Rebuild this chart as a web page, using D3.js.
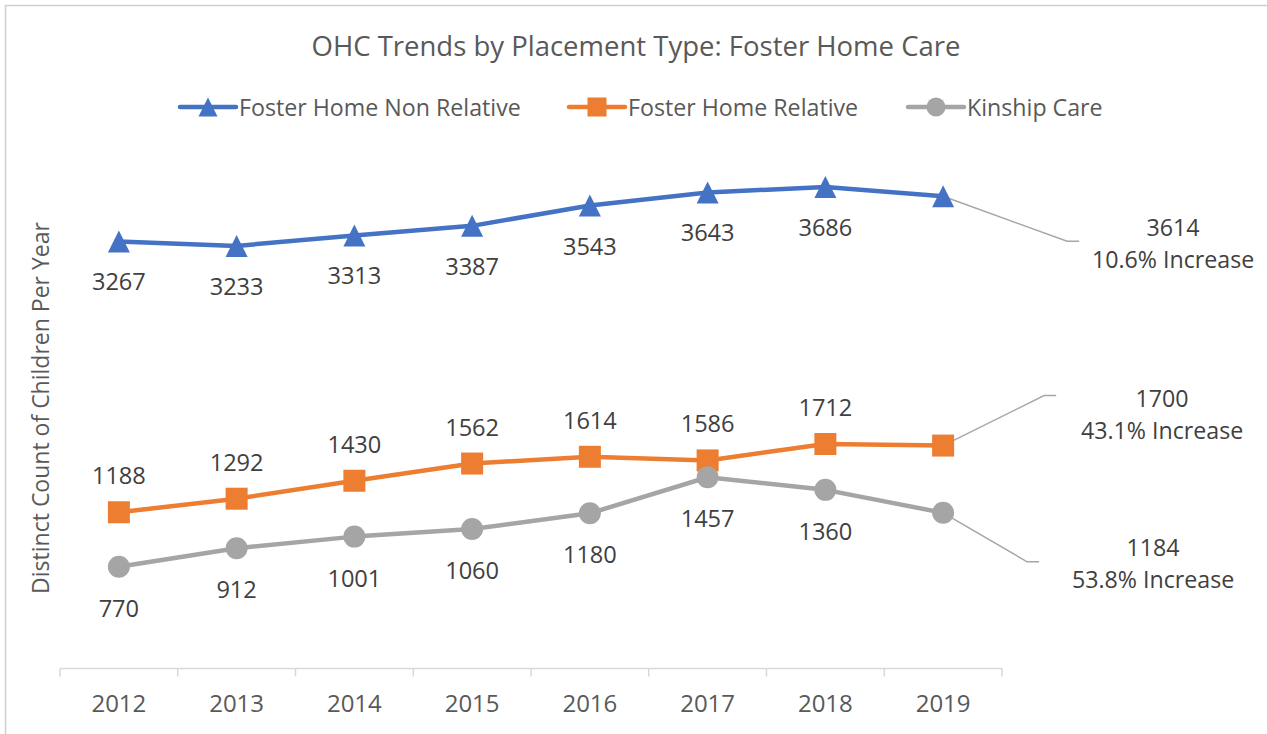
<!DOCTYPE html>
<html>
<head>
<meta charset="utf-8">
<script src="https://cdn.jsdelivr.net/npm/d3@7"></script>
<style>
  body { margin: 0; background: #fff; }
  svg { font-family: 'Open Sans', 'Noto Sans', sans-serif; }
</style>
</head>
<body>
<div id="chart"></div>
<script>
const years = ['2012', '2013', '2014', '2015', '2016', '2017', '2018', '2019']
const nonRelative = [3267, 3233, 3313, 3387, 3543, 3643, 3686, 3614]
const relative = [1188, 1292, 1430, 1562, 1614, 1586, 1712, 1700]
const kinship = [770, 912, 1001, 1060, 1180, 1457, 1360, 1184]
const seriesNames = ['Foster Home Non Relative', 'Foster Home Relative', 'Kinship Care']
const increaseLabels = ['10.6% Increase', '43.1% Increase', '53.8% Increase']
const title = 'OHC Trends by Placement Type: Foster Home Care'
const yTitle = 'Distinct Count of Children Per Year'

const width = 1267
const height = 734
const plot = { left: 60, right: 1002, top: 146, bottom: 667 }

const svg = d3.select('#chart').append('svg').attr('width', width).attr('height', height)

// chart border (right/bottom run off the picture)
svg.append('rect')
  .attr('x', 5.5).attr('y', 5.5).attr('width', 1400).attr('height', 900)
  .attr('fill', 'none').attr('stroke', '#d0d0d0').attr('stroke-width', 1.5)

const x = d3.scaleBand().domain(years).range([plot.left, plot.right])
const y = d3.scaleLinear().domain([0, 4000]).range([plot.bottom, plot.top])
const cx = (yr) => x(yr) + x.bandwidth() / 2

function markerPath(shape, s) {
  if (shape === 'triangle') return `M0,${-s / 2}L${s / 2},${s / 2}L${-s / 2},${s / 2}Z`
  if (shape === 'square') return `M${-s / 2},${-s / 2}h${s}v${s}h${-s}Z`
  return d3.arc()({ innerRadius: 0, outerRadius: s / 2, startAngle: 0, endAngle: 2 * Math.PI })
}

const series = [
  { name: seriesNames[0], values: nonRelative, color: '#4472C4', shape: 'triangle', labelDy: 40,
    callout: { text: increaseLabels[0], elbow: [124, 45], tx: 230, ty: 31 } },
  { name: seriesNames[1], values: relative, color: '#ED7D31', shape: 'square', labelDy: -37,
    callout: { text: increaseLabels[1], elbow: [101, -50], tx: 219, ty: -48 } },
  { name: seriesNames[2], values: kinship, color: '#A5A5A5', shape: 'circle', labelDy: 41,
    callout: { text: increaseLabels[2], elbow: [84, 49], tx: 210, ty: 34 } },
]

// title
svg.append('text')
  .attr('x', 636).attr('y', 45)
  .attr('text-anchor', 'middle').attr('dominant-baseline', 'central')
  .attr('fill', '#595959').style('font-size', '27.5px')
  .text(title)

// legend
const legendX = [180, 569, 908]
const legend = svg.selectAll('g.legend').data(series).join('g')
  .attr('class', 'legend')
  .attr('transform', (d, i) => `translate(${legendX[i]},107)`)
legend.append('line')
  .attr('x1', 0).attr('x2', 56)
  .attr('stroke', (d) => d.color).attr('stroke-width', 4.5).attr('stroke-linecap', 'round')
legend.append('path')
  .attr('transform', 'translate(28,0)')
  .attr('d', (d) => markerPath(d.shape, 19))
  .attr('fill', (d) => d.color)
legend.append('text')
  .attr('x', 59).attr('dominant-baseline', 'central')
  .attr('fill', '#595959').style('font-size', '23.2px')
  .text((d) => d.name)

// y axis title
svg.append('text')
  .attr('transform', 'translate(40,408) rotate(-90)')
  .attr('text-anchor', 'middle').attr('dominant-baseline', 'central')
  .attr('fill', '#595959').style('font-size', '23px')
  .text(yTitle)

// x axis
const axisY = plot.bottom + 1.5
const axisG = svg.append('g')
axisG.append('line')
  .attr('x1', plot.left).attr('x2', plot.right)
  .attr('y1', axisY).attr('y2', axisY)
  .attr('stroke', '#d9d9d9').attr('stroke-width', 1.5)
axisG.selectAll('line.tick')
  .data([...years.map((d) => x(d)), plot.right])
  .join('line')
  .attr('class', 'tick')
  .attr('x1', (d) => d).attr('x2', (d) => d)
  .attr('y1', axisY).attr('y2', axisY + 8)
  .attr('stroke', '#d9d9d9').attr('stroke-width', 1.5)
axisG.selectAll('text')
  .data(years)
  .join('text')
  .attr('x', (d) => cx(d)).attr('y', axisY + 34)
  .attr('text-anchor', 'middle').attr('dominant-baseline', 'central')
  .attr('fill', '#595959').style('font-size', '24px')
  .text((d) => d)

const line = d3.line().x((d) => cx(d.year)).y((d) => y(d.value))

series.forEach((s) => {
  const pts = s.values.map((v, i) => ({ year: years[i], value: v }))
  const last = pts[pts.length - 1]
  const lx = cx(last.year)
  const ly = y(last.value)

  // leader line for the last point
  const c = s.callout
  svg.append('polyline')
    .attr('points', `${lx},${ly} ${lx + c.elbow[0]},${ly + c.elbow[1]} ${lx + c.elbow[0] + 12},${ly + c.elbow[1]}`)
    .attr('fill', 'none').attr('stroke', '#a6a6a6').attr('stroke-width', 1.5)

  svg.append('path')
    .attr('d', line(pts))
    .attr('fill', 'none').attr('stroke', s.color).attr('stroke-width', 4.5)
    .attr('stroke-linejoin', 'round').attr('stroke-linecap', 'round')

  svg.append('g').selectAll('path')
    .data(pts)
    .join('path')
    .attr('transform', (d) => `translate(${cx(d.year)},${y(d.value)})`)
    .attr('d', markerPath(s.shape, 22))
    .attr('fill', s.color)

  svg.append('g').selectAll('text')
    .data(pts.slice(0, -1))
    .join('text')
    .attr('x', (d) => cx(d.year)).attr('y', (d) => y(d.value) + s.labelDy)
    .attr('text-anchor', 'middle').attr('dominant-baseline', 'central')
    .attr('fill', '#404040').style('font-size', '23.6px')
    .text((d) => d.value)

  const callout = svg.append('text')
    .attr('text-anchor', 'middle')
    .attr('fill', '#404040').style('font-size', '23.2px')
  callout.append('tspan')
    .attr('x', lx + c.tx).attr('y', ly + c.ty).attr('dominant-baseline', 'central')
    .text(last.value)
  callout.append('tspan')
    .attr('x', lx + c.tx).attr('y', ly + c.ty + 32).attr('dominant-baseline', 'central')
    .text(c.text)
})
</script>
</body>
</html>
